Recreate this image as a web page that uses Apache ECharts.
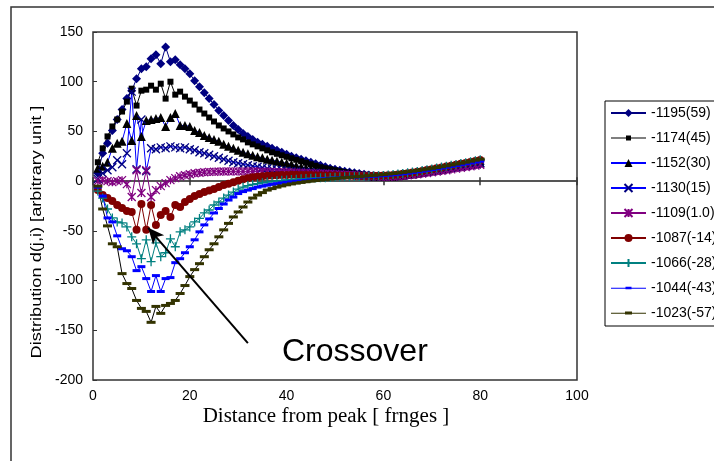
<!DOCTYPE html>
<html>
<head>
<meta charset="utf-8">
<script src="https://cdn.jsdelivr.net/npm/echarts@6/dist/echarts.min.js"></script>
<style>html,body{margin:0;padding:0;background:#fff;}#c{width:714px;height:461px;}</style>
</head>
<body>
<div id="c"></div>
<script>
// ---- data ----
const xs = [1,2,3,4,5,6,7,8,9,10,11,12,13,14,15,16,17,18,19,20,21,22,23,24,25,26,27,28,29,30,31,32,33,34,35,36,37,38,39,40,41,42,43,44,45,46,47,48,49,50,51,52,53,54,55,56,57,58,59,60,61,62,63,64,65,66,67,68,69,70,71,72,73,74,75,76,77,78,79,80];
const seriesNames = ['-1195(59)','-1174(45)','-1152(30)','-1130(15)','-1109(1.0)','-1087(-14)','-1066(-28)','-1044(-43)','-1023(-57)'];
const s1195 = [8,28,38,51,62,72,83,91,103,113, 115,123,127,118,135,120,122,117,113,108, 101,95,89,83,77,71,66,61,56,52, 48,45,42,39,37,35,33,31,29,27, 25,23.5,22,20.5,19,17.5,16,14.5,13,12, 11,10,9.2,8.5,7.7,7,6.2,5.5,5,4.5, 4.4,4.6,5,5.5,6,6.7,7.4,8.2,9,9.8, 10.6,11.4,12.2,13,14,14.7,15.4,16,16.6,17];
const s1174 = [19,33,45,55,62,70,80,93,76,91, 92,96,92,98,83,100,87,90,85,81, 77,72,68,64,60,56,53,50,47,44, 42,39,37,35,33,31,29,27.5,26,24.5, 23,21.5,20,18.5,17,15.5,14,13,12,11, 10,9,8.3,7.6,7,6.4,5.8,5.3,5,4.8, 5,5.3,5.8,6.3,7,7.7,8.4,9.1,9.9,10.7, 11.5,12.3,13.1,14,15,15.8,16.6,17.4,18.2,19];
const s1152 = [13,15,19,33,38,40,58,41,66,45, 61,62,63,64,55,64,68,56,56,55, 51,49,46,44,42,40,37,35,33,31, 29,27.5,26,24.5,23.5,22,21,20,19,18, 17,15.5,14.4,13.5,12.5,11.5,11,10,9.5,9, 8.5,8,7.5,7,6.5,6,5.5,5,4.8,4.6, 4.8,5,5.5,6,6.6,7.3,8,8.8,9.6,10.4, 11.2,12,12.8,13.7,14.6,15.4,16.2,17,17.8,18.5];
const s1130 = [2,8,11,14,21,17,28,90,12,62, 10,33,32,34,33,35,34,33,34,32, 31,29,28,26.5,25,23.5,22,20.5,19,18, 17,16,15,14.4,13.5,12.7,12,11.5,11,10.5, 10,9.7,9.4,9.1,8.8,8.5,8.2,7.9,7.6,7.3, 7,6.7,6.4,6.1,5.8,5.5,5.2,5,4.8,4.6, 4.7,4.9,5.3,5.8,6.3,7,7.7,8.4,9.2,10, 10.8,11.6,12.4,13.2,14,14.8,15.6,16.4,17.2,18];
const s1109 = [0,1,0,-1,0,1,-3,-16,11,-12, 11,-16,-9,-5,-2,1,3,5,6,7, 8,8.5,9,9.3,9.5,9.6,9.7,9.8,9.8,9.8, 9.8,9.8,9.7,9.6,9.5,9.4,9.3,9.2,9,8.9, 8.7,8.5,8.4,8.2,8,7.8,7.6,7.4,7.2,7, 6.8,6.5,6.2,5.9,5.6,5.3,5,4.8,4.6,4.5, 4.5,4.7,5,5.4,5.9,6.4,7,7.6,8.2,8.9, 9.6,10.3,11,11.8,12.6,13.4,14.2,15,15.8,16.5];
const s1087 = [-9,-14,-17,-20,-24,-27,-30,-31,-49,-23, -49,-24,-44,-34,-30,-36,-24,-26,-21,-18, -15,-13,-11,-9.5,-8,-6,-4,-2.5,-1,0.5, 2,3,4,4.5,5,5.5,5.8,6,6.2,6.3, 6.4,6.4,6.3,6.2,6.1,6,5.9,5.8,5.7,5.6, 5.5,5.4,5.3,5.2,5.1,5.1,5.2,5.3,5.4,5.6, 5.9,6.3,6.8,7.4,8,8.7,9.5,10.3,11.1,12, 12.9,13.8,14.7,15.6,16.5,17.4,18.3,19.2,20.2,21.2];
const s1066 = [-10,-17,-28,-37,-41,-42,-46,-56,-63,-78, -59,-81,-62,-76,-72,-58,-66,-51,-49,-46, -41,-37.5,-32,-29,-24,-21,-17,-14,-11,-8, -6,-4.5,-3.3,-2.4,-1.6,-0.9,-0.3,0.3,0.8,1.2, 1.6,2,2.3,2.6,2.9,3.1,3.3,3.5,3.7,3.9, 4.1,4.3,4.5,4.6,4.7,4.8,5,5.2,5.5,5.8, 6.2,6.7,7.2,7.8,8.4,9.1,9.8,10.6,11.4,12.3, 13.2,14.1,15,15.9,16.8,17.7,18.6,19.5,20.5,21.5];
const s1044 = [-6,-15,-37,-41,-55,-68,-70,-76,-90,-86, -98,-111,-95,-111,-98,-97,-82,-78,-72,-66, -59,-51,-44,-38,-32,-27.5,-23,-19,-16,-12.5, -10.5,-9,-7.5,-6,-5,-4,-3.2,-2.5,-1.8,-1.2, -0.7,-0.2,0.3,0.8,1.2,1.6,2,2.4,2.7,3, 3.3,3.6,3.9,4.1,4.3,4.5,4.7,5,5.3,5.6, 6,6.4,6.9,7.4,8,8.6,9.3,10,10.8,11.6, 12.4,13.2,14,14.8,15.6,16.4,17.3,18.2,19.1,20];
const s1023 = [-5,-28,-45,-63,-66,-93,-103,-108,-120,-128, -131,-142,-126,-133,-125,-123,-120,-113,-105,-96, -89,-83,-76,-69,-63,-56,-49,-42.5,-36,-31, -26,-21,-17,-14,-11.5,-9,-7.5,-6,-4.8,-3.7, -2.8,-2,-1.3,-0.6,0,0.6,1.2,1.7,2.2,2.7, 3.1,3.5,3.9,4.3,4.7,5.1,5.5,5.9,6.3,6.7, 7.2,7.7,8.2,8.8,9.4,10,10.7,11.4,12.1,12.9, 13.7,14.5,15.4,16.3,17.2,18.1,19.1,20.1,21.1,22.1];
const allValues = [s1195,s1174,s1152,s1130,s1109,s1087,s1066,s1044,s1023];
const arrowFrom = [32, -163];
const arrowTo = [11.4, -47];
const annotationText = 'Crossover';
const xTitle = 'Distance from peak [ frnges ]';
const yTitle = 'Distribution d(j,i) [arbitrary unit ]';

// ---- styles ----
const lineColors = ['#000080','#000000','#0000FF','#0000FF','#800080','#800000','#008080','#0000FF','#000000'];
const markerColors = ['#000080','#000000','#000000','#000080','#800080','#800000','#008080','#0000FF','#333300'];
const symbols = ['diamond','rect','triangle',
  'path://M0,0L10,10M10,0L0,10',
  'path://M0,0L10,10M10,0L0,10M5,0L5,10',
  'circle',
  'path://M5,0L5,10M0,5L10,5',
  'rect','rect'];
const symbolSizes = [9,6,9,8,8,8,9,[8,3],[9,3]];
const strokeSymbols = [false,false,false,true,true,false,true,false,false];
const legendIcons = [null,
  'path://M0,9.5H35V10.5H0Z M15,7.5H20V12.5H15Z',
  null, null, null, null, null,
  'path://M0,9.5H35V10.5H0Z M14.5,8.5H20.5V11H14.5Z',
  'path://M0,9.5H35V10.5H0Z M14,8.3H21V11.3H14Z'];

const series = allValues.map((vals, i) => ({
  name: seriesNames[i],
  type: 'line',
  xAxisIndex: 0,
  yAxisIndex: 0,
  data: xs.map((x, k) => [x, vals[k]]),
  symbol: symbols[i],
  symbolSize: symbolSizes[i],
  showAllSymbol: true,
  lineStyle: { color: lineColors[i], width: 1 },
  itemStyle: strokeSymbols[i]
    ? { color: 'rgba(0,0,0,0)', borderColor: markerColors[i], borderWidth: 1.3 }
    : { color: markerColors[i], borderWidth: 0 },
  emphasis: { disabled: true },
  animation: false,
  z: 2
}));
series.push({
  type: 'line', data: [], silent: true, animation: false,
  markLine: {
    silent: true, animation: false,
    symbol: ['none', 'arrow'], symbolSize: [11, 16],
    label: { show: false },
    lineStyle: { color: '#000', width: 2, type: 'solid' },
    data: [[{ coord: arrowFrom }, { coord: arrowTo }]]
  },
  z: 5
});

const legendData = seriesNames.map((n, i) => legendIcons[i]
  ? { name: n, icon: legendIcons[i], itemStyle: { color: markerColors[i] } }
  : { name: n });

const chart = echarts.init(document.getElementById('c'), null, { renderer: 'canvas' });
const axisFont = { fontFamily: 'Liberation Sans, Arial, sans-serif', fontSize: 14, color: '#000' };
chart.setOption({
  backgroundColor: '#fff',
  animation: false,
  grid: { left: 93, top: 32, width: 484, height: 348, show: true, borderColor: '#333', borderWidth: 1.5, backgroundColor: '#fff', containLabel: false },
  xAxis: [
    { type: 'value', min: 0, max: 100, interval: 20, position: 'bottom',
      axisLine: { show: false, onZero: false }, axisTick: { show: false }, splitLine: { show: false },
      axisLabel: Object.assign({ margin: 9 }, axisFont) },
    { type: 'value', min: 0, max: 100, interval: 20, position: 'bottom',
      axisLine: { show: true, onZero: true, onZeroAxisIndex: 0, lineStyle: { color: '#555', width: 2 } },
      axisTick: { show: true, inside: true, length: 4, lineStyle: { color: '#333', width: 1.5 } },
      axisLabel: { show: false }, splitLine: { show: false } },
    { type: 'value', min: 0, max: 100, interval: 20, position: 'bottom',
      axisLine: { show: true, onZero: true, onZeroAxisIndex: 0, lineStyle: { color: '#555', width: 2 } },
      axisTick: { show: true, inside: false, length: 4, lineStyle: { color: '#333', width: 1.5 } },
      axisLabel: { show: false }, splitLine: { show: false } }
  ],
  yAxis: [
    { type: 'value', min: -200, max: 150, interval: 50,
      axisLine: { show: false }, axisTick: { show: true, inside: true, length: 4, lineStyle: { color: '#333' } },
      splitLine: { show: false },
      axisLabel: Object.assign({ margin: 10 }, axisFont) }
  ],
  legend: {
    orient: 'vertical', left: 605, top: 101,
    padding: [5, 5, 6, 5],
    itemWidth: 35, itemHeight: 10, itemGap: 11,
    borderColor: '#000', borderWidth: 1, backgroundColor: '#fff',
    textStyle: { fontFamily: 'Liberation Sans, Arial, sans-serif', fontSize: 14, color: '#000' },
    data: legendData
  },
  graphic: [
    { type: 'rect', silent: true, z: -1, shape: { x: 11, y: 7, width: 900, height: 700 }, style: { fill: 'none', stroke: '#333', lineWidth: 1.5 } },
    { type: 'text', silent: true, x: 37, y: 232, rotation: Math.PI / 2, scaleX: 1.3,
      style: { text: yTitle, fontFamily: 'Liberation Sans, Arial, sans-serif', fontSize: 14, fill: '#000', textAlign: 'center', textVerticalAlign: 'middle' } },
    { type: 'text', silent: true, x: 326, y: 417, scaleX: 1.05,
      style: { text: xTitle, fontFamily: 'Liberation Serif, Times New Roman, serif', fontSize: 20, fill: '#000', textAlign: 'center', textVerticalAlign: 'middle' } },
    { type: 'text', silent: true, x: 282, y: 352, z: 10,
      style: { text: annotationText, fontFamily: 'Liberation Sans, Arial, sans-serif', fontSize: 32, fill: '#000', textAlign: 'left', textVerticalAlign: 'middle' } }
  ],
  series: series
});
</script>
</body>
</html>
